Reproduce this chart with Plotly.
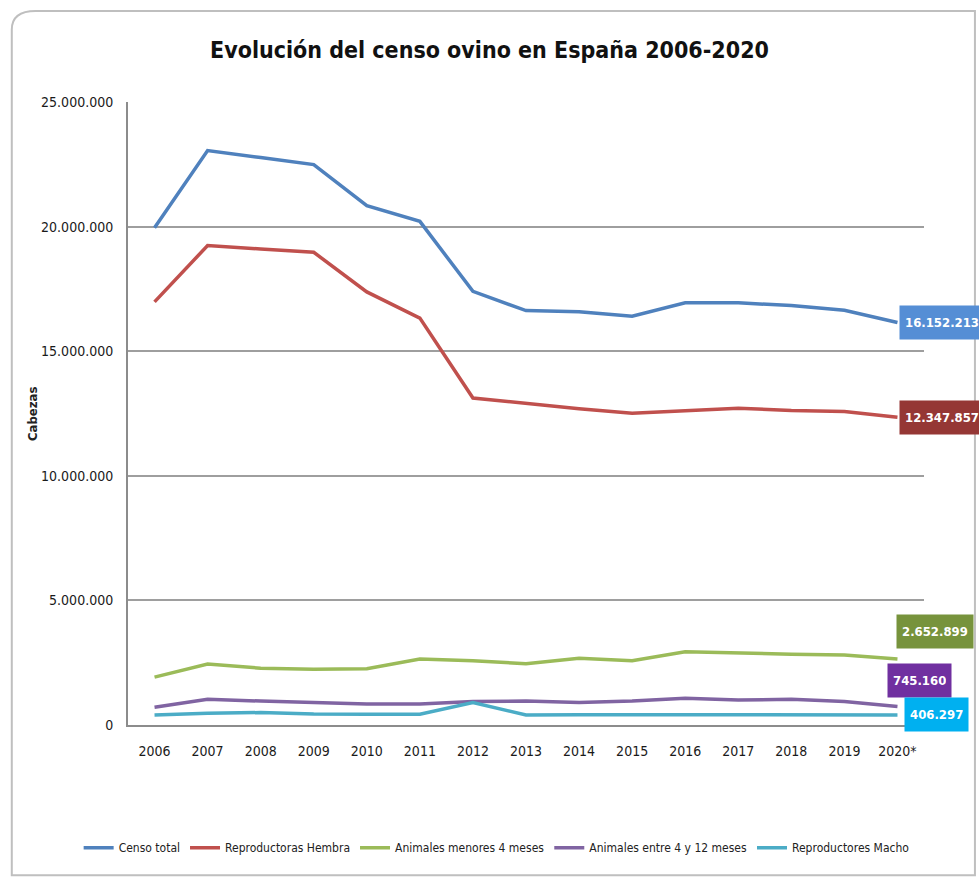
import plotly.graph_objects as go

# Sheep census in Spain, heads per category and year
years = ["2006", "2007", "2008", "2009", "2010", "2011", "2012", "2013",
         "2014", "2015", "2016", "2017", "2018", "2019", "2020*"]

censo_total = [19950000, 23050000, 22770000, 22490000, 20840000, 20210000, 17400000,
               16630000, 16580000, 16400000, 16940000, 16940000, 16830000, 16640000, 16152213]
reproductoras_hembra = [16980000, 19240000, 19100000, 18970000, 17380000, 16330000, 13120000,
                        12890000, 12690000, 12510000, 12620000, 12710000, 12620000, 12580000, 12347857]
menores_4_meses = [1920000, 2450000, 2280000, 2240000, 2260000, 2650000, 2580000,
                   2460000, 2680000, 2580000, 2940000, 2880000, 2840000, 2810000, 2652899]
entre_4_y_12_meses = [710000, 1030000, 960000, 900000, 840000, 840000, 940000,
                      960000, 900000, 960000, 1070000, 1000000, 1030000, 940000, 745160]
reproductores_macho = [400000, 470000, 500000, 440000, 430000, 430000, 900000,
                       400000, 410000, 410000, 410000, 410000, 410000, 410000, 406297]

series = [
    ("Censo total", censo_total, "#4F81BD", "#558ED5", 2, 0),
    ("Reproductoras Hembra", reproductoras_hembra, "#C0504D", "#953735", 2, 0),
    ("Animales menores 4 meses", menores_4_meses, "#9BBB59", "#77933C", -1, 27),
    ("Animales entre 4 y 12 meses", entre_4_y_12_meses, "#8064A2", "#7030A0", -10, 26),
    ("Reproductores Macho", reproductores_macho, "#4BACC6", "#00B0F0", 7, 0),
]

FONT = "DejaVu Sans Condensed, DejaVu Sans, sans-serif"


def fmt(v):
    return f"{v:,}".replace(",", ".")


fig = go.Figure()
annotations = []
for name, vals, color, box, xs, ys in series:
    fig.add_trace(go.Scatter(
        x=years, y=vals, name=name, mode="lines",
        line=dict(color=color, width=3.5),
    ))
    annotations.append(dict(
        x=years[-1], y=vals[-1], xref="x", yref="y",
        text=f"<b>{fmt(vals[-1])}</b>", showarrow=False,
        xanchor="left", yanchor="middle", xshift=xs, yshift=ys,
        font=dict(family=FONT, size=13, color="white"),
        bgcolor=box, borderpad=5, height=23,
    ))

annotations.append(dict(
    text="<b>Cabezas</b>", textangle=-90, showarrow=False,
    xref="paper", yref="paper", x=-0.12, y=0.5,
    xanchor="center", yanchor="middle",
    font=dict(family=FONT, size=13, color="#222222"),
))

# Rounded chart frame in paper coordinates
x0, x1, y0, y1 = -0.146, 1.064, -0.241, 1.146
rx, ry = 0.03, 0.03
frame = (f"M {x0+rx},{y1} L {x1},{y1} L {x1},{y0} L {x0},{y0} L {x0},{y1-ry} "
         f"Q {x0},{y1} {x0+rx},{y1} Z")

fig.update_layout(
    width=979, height=879,
    margin=dict(l=128, r=55, t=102, b=154),
    paper_bgcolor="white", plot_bgcolor="white",
    separators=",.",
    title=dict(text="<b>Evolución del censo ovino en España 2006-2020</b>",
               x=0.5, xanchor="center", y=0.943, yanchor="middle",
               font=dict(family=FONT, size=23, color="#111111")),
    font=dict(family=FONT, color="#222222"),
    showlegend=True,
    legend=dict(orientation="h", x=-0.062, xanchor="left", y=-0.197, yanchor="middle",
                font=dict(family=FONT, size=12, color="#222222"),
                itemwidth=30, tracegroupgap=0),
    annotations=annotations,
    shapes=[dict(type="path", path=frame, xref="paper", yref="paper",
                 line=dict(color="#BFBFBF", width=2), layer="below")],
)

fig.update_xaxes(
    type="category", range=[-0.5, 14.5],
    showline=True, linecolor="#8C8C8C", linewidth=2,
    showgrid=False, ticks="",
    tickfont=dict(family=FONT, size=14, color="#1a1a1a"),
    ticklabelstandoff=12,
)
fig.update_yaxes(
    range=[0, 25000000], tickvals=[0, 5000000, 10000000, 15000000, 20000000, 25000000],
    tickformat=",d",
    showline=True, linecolor="#8C8C8C", linewidth=2,
    showgrid=True, gridcolor="#9E9E9E", gridwidth=2,
    zeroline=False, ticks="",
    tickfont=dict(family=FONT, size=14, color="#1a1a1a"),
    ticklabelstandoff=10,
)

fig.write_html("out.html")
